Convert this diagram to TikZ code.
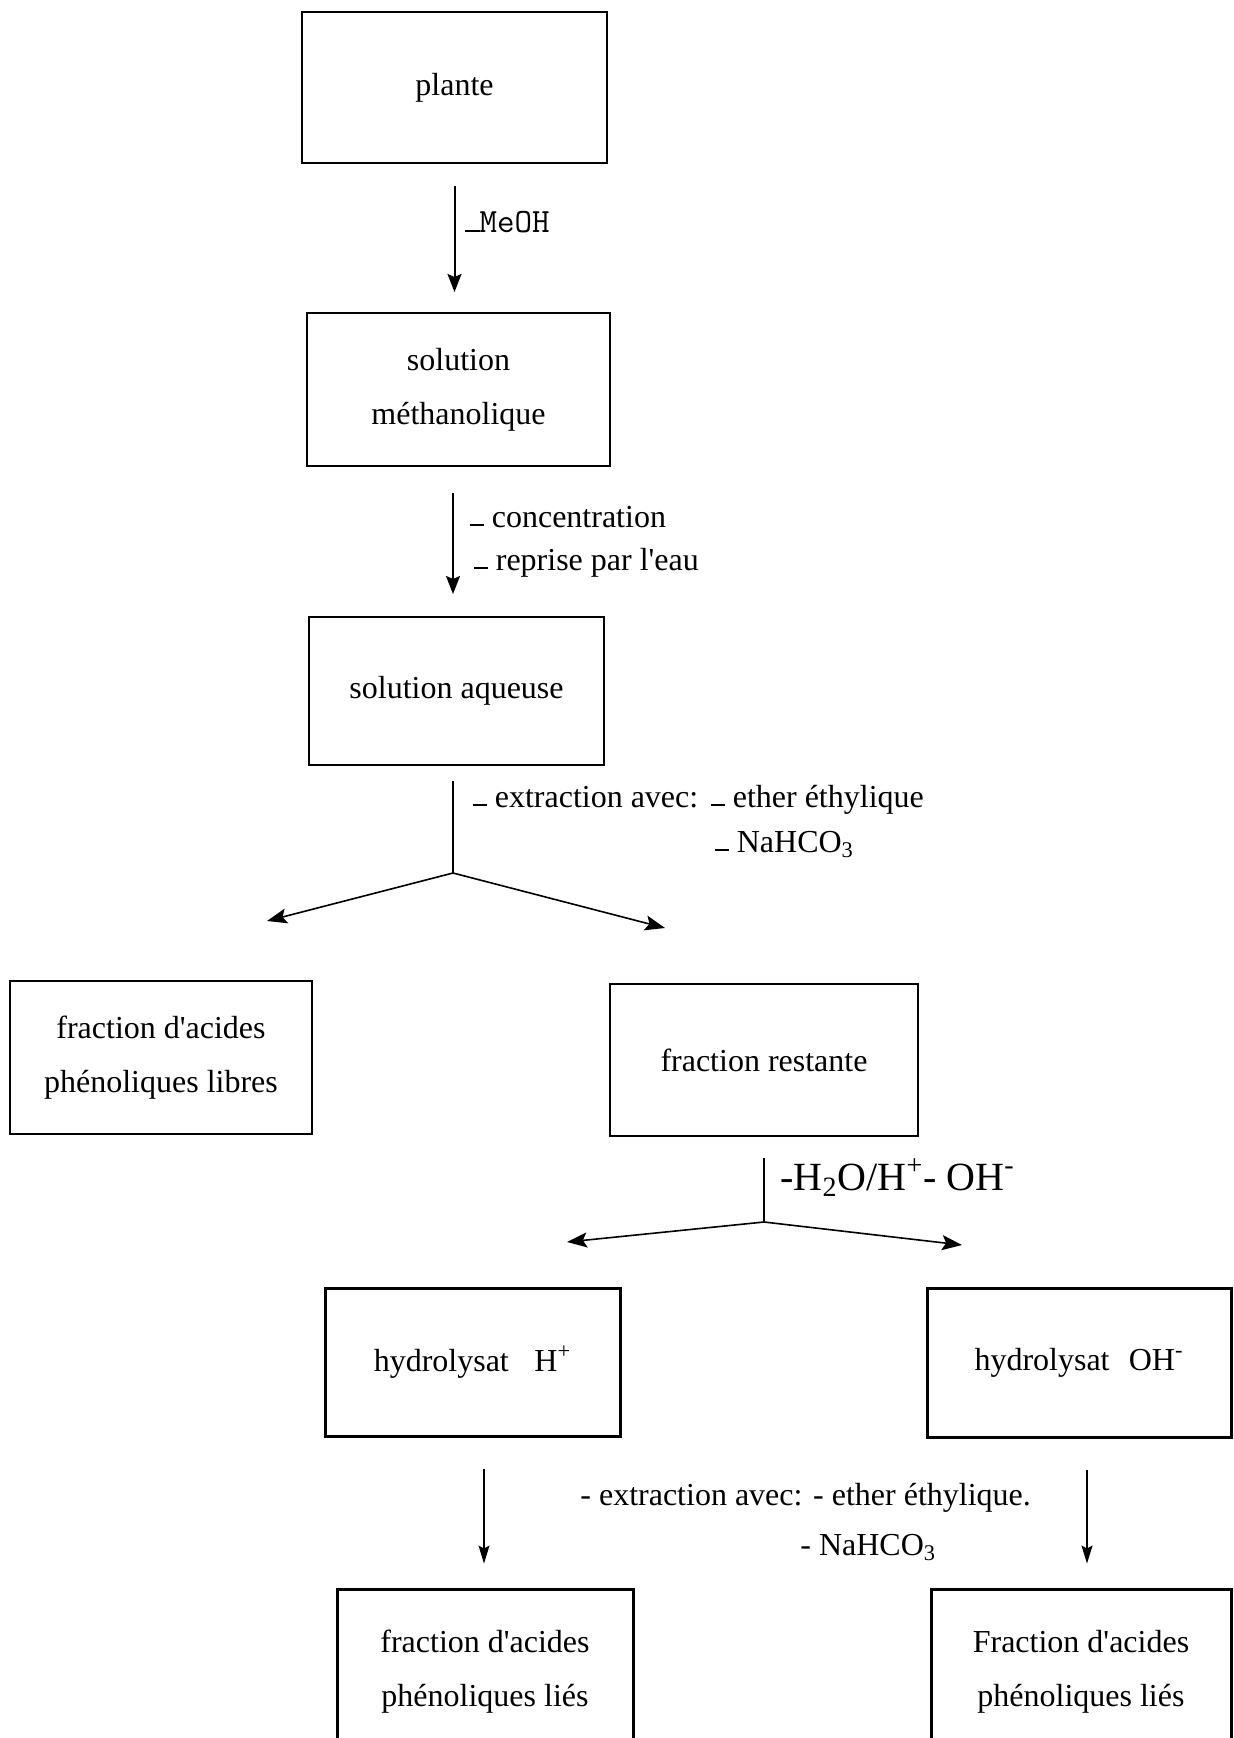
\documentclass[tikz,border=0pt]{standalone}
\usepackage{fontspec}
\setmainfont{Liberation Serif}
\usetikzlibrary{arrows.meta}

\newcommand{\lowdash}{\rule[0.4pt]{0.42em}{1.1pt}}
\newcommand{\apos}{\textquotesingle}

\begin{document}
\begin{tikzpicture}[x=0.5pt, y=-0.5pt,
    box/.style={draw, line width=1pt, align=center, inner sep=0pt,
      font=\fontsize{16}{27}\selectfont},
    thickbox/.style={box, line width=1.5pt},
    flow/.style={-{Stealth[length=9pt, width=7pt, inset=1.5pt]}, line width=1pt},
    fork/.style={-{Stealth[length=10pt, width=7.5pt, inset=2pt]}, line width=0.8pt},
    thinflow/.style={-{Stealth[length=9pt, width=5.5pt, inset=1.5pt]}, line width=0.6pt},
    lbl/.style={anchor=base west, inner sep=0pt, font=\fontsize{16}{20}\selectfont}]

    \useasboundingbox (0,0) rectangle (1233,1738);

    % Extraction chain
    \node[box, minimum width=152.5pt, minimum height=75.5pt] (plante) at (454.5,87.5) {plante};
    \node[box, minimum width=151.5pt, minimum height=76.5pt] (solmeth) at (458.5,389.5) {solution\\méthanolique};
    \node[box, minimum width=147.5pt, minimum height=74pt] (solaq) at (456.5,691) {solution aqueuse};

    \draw[flow, shorten <=11pt, shorten >=10pt] (plante.south) -- (plante.south |- solmeth.north);
    \node[lbl, font=\ttfamily\fontsize{17}{20}\selectfont] (meoh) at (465,233) {\lowdash MeOH};

    \draw[flow, shorten <=13pt, shorten >=11pt] ([xshift=-2.75pt]solmeth.south) -- ([xshift=-2.75pt]solmeth.south |- solaq.north);
    \node[lbl] (conc) at (470,527) {\lowdash\ concentration};
    \node[lbl] (reprise) at ([xshift=2pt,yshift=-21.5pt]conc.base west) {\lowdash\ reprise par l\apos eau};

    % First split
    \node[box, minimum width=151pt, minimum height=76.5pt] (libres) at (161,1057.5) {fraction d\apos acides\\phénoliques libres};
    \node[box, minimum width=154pt, minimum height=76pt] (restante) at (764,1060) {fraction restante};

    \coordinate (fork1) at (453,873);
    \coordinate (libtip) at (267,921);
    \coordinate (restip) at (665,928);
    \draw[line width=0.8pt, shorten <=7.5pt] ([xshift=-1.75pt]solaq.south) -- (fork1);
    \draw[fork] (fork1) -- (libtip);
    \draw[fork] (fork1) -- (restip);
    \node[lbl] (extra) at (473,807) {\lowdash\ extraction avec:};
    \node[lbl] (ether) at (711,807) {\lowdash\ ether éthylique};
    \node[lbl] (bicarb) at ([xshift=2pt,yshift=-22.5pt]ether.base west) {\lowdash\ NaHCO\textsubscript{3}};

    % Hydrolysis
    \node[thickbox, minimum width=147.5pt, minimum height=74pt] (hydH) at (472.5,1362) {hydrolysat\hspace{0.8em}H\textsuperscript{+}};
    \node[thickbox, minimum width=152pt, minimum height=74.5pt] (hydOH) at (1079,1362.5) {hydrolysat\hspace{0.6em}OH\textsuperscript{-}};

    \coordinate (fork2) at (764,1222);
    \coordinate (hydHtip) at (567,1242);
    \coordinate (hydOHtip) at (962,1245);
    \draw[line width=0.8pt, shorten <=10.5pt] (restante.south) -- (fork2);
    \draw[fork] (fork2) -- (hydHtip);
    \draw[fork] (fork2) -- (hydOHtip);
    \node[lbl, font=\fontsize{20}{24}\selectfont] (hydro) at (780,1190) {-H\textsubscript{2}O/H\textsuperscript{+}- OH\textsuperscript{-}};

    % Bound fractions
    \node[thickbox, minimum width=148pt, minimum height=83pt] (fracH) at (485,1672) {fraction d\apos acides\\phénoliques liés};
    \node[thickbox, minimum width=150pt, minimum height=83pt] (fracOH) at (1081,1672) {Fraction d\apos acides\\phénoliques liés};

    \draw[thinflow, shorten <=15.5pt, shorten >=12pt] ([xshift=5.75pt]hydH.south) -- ([xshift=5.75pt]hydH.south |- fracH.north);
    \draw[thinflow, shorten <=15.5pt, shorten >=12pt] ([xshift=4pt]hydOH.south) -- ([xshift=4pt]hydOH.south |- fracOH.north);
    \node[lbl] (extrb) at (580,1505) {- extraction avec: - ether éthylique.};
    \node[lbl] (bicarbb) at (800,1555) {- NaHCO\textsubscript{3}};
\end{tikzpicture}
\end{document}
